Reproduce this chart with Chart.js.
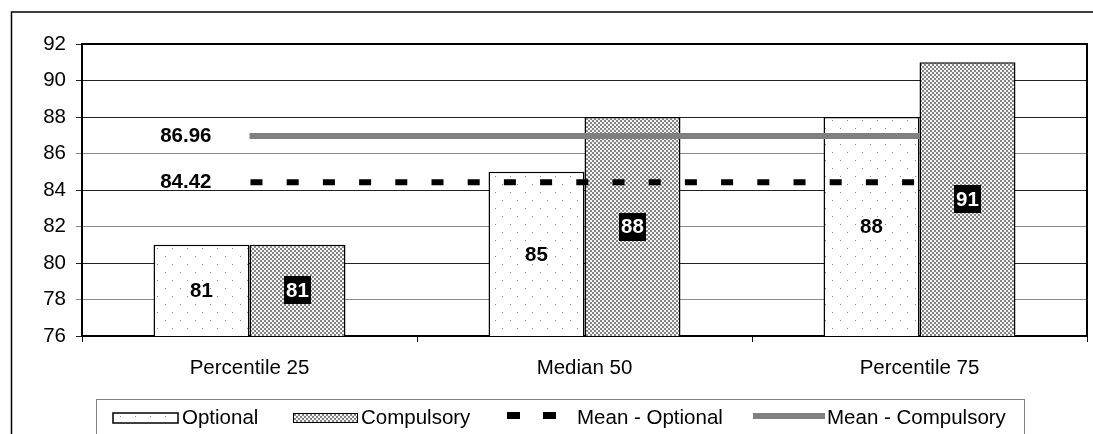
<!DOCTYPE html>
<html>
<head>
<meta charset="utf-8">
<script src="https://cdn.jsdelivr.net/npm/chart.js@4/dist/chart.umd.min.js"></script>
<style>
  html, body { margin: 0; padding: 0; background: #fff; }
  #wrap { position: relative; width: 1093px; height: 434px; }
</style>
</head>
<body>
<div id="wrap"><canvas id="chart"></canvas></div>
<script>
// data
const categories = ['Percentile 25', 'Median 50', 'Percentile 75'];
const optionalValues = [81, 85, 88];
const compulsoryValues = [81, 88, 91];
const meanOptional = [84.42, 84.42, 84.42];
const meanCompulsory = [86.96, 86.96, 86.96];
const yTicks = [76, 78, 80, 82, 84, 86, 88, 90, 92];

const FONT = '"Liberation Sans", Arial, sans-serif';

// fill patterns like the old excel ones
function dotPattern() {
    const c = document.createElement('canvas');
    c.width = 15; c.height = 16;
    const g = c.getContext('2d');
    g.fillStyle = '#fff';
    g.fillRect(0, 0, 15, 16);
    g.fillStyle = '#8a8a8a';
    g.fillRect(0, 0, 1, 1);
    g.fillRect(7, 8, 1, 1);
    return g.createPattern(c, 'repeat');
}

function checkerPattern() {
    const c = document.createElement('canvas');
    c.width = 4; c.height = 4;
    const g = c.getContext('2d');
    g.fillStyle = '#f4f4f4';
    g.fillRect(0, 0, 4, 4);
    g.fillStyle = '#858585';
    g.fillRect(0, 0, 2, 2);
    g.fillRect(2, 2, 2, 2);
    return g.createPattern(c, 'repeat');
}

const dots = dotPattern();
const checker = checkerPattern();

// outer frame, plot frame, value labels and legend
const decorations = {
    id: 'decorations',
    beforeDraw(chart) {
        const ctx = chart.ctx;
        ctx.save();
        ctx.strokeStyle = '#000';
        ctx.lineWidth = 1.5;
        ctx.beginPath();
        ctx.moveTo(11.5, 434);
        ctx.lineTo(11.5, 12);
        ctx.lineTo(1093, 12);
        ctx.stroke();
        ctx.restore();
    },
    afterDatasetsDraw(chart) {
        const ctx = chart.ctx;
        const area = chart.chartArea;
        const xs = chart.scales.x;
        const ys = chart.scales.y;
        ctx.save();

        // right + top border of the plot
        ctx.strokeStyle = '#000';
        ctx.lineWidth = 2;
        ctx.beginPath();
        ctx.moveTo(area.left, area.top);
        ctx.lineTo(area.right, area.top);
        ctx.lineTo(area.right, area.bottom);
        ctx.stroke();

        ctx.font = 'bold 20.5px ' + FONT;
        ctx.textAlign = 'center';
        ctx.textBaseline = 'middle';
        const basePx = ys.getPixelForValue(ys.min);

        // optional: plain black text
        chart.getDatasetMeta(0).data.forEach((bar, i) => {
            const cx = bar.getProps(['x'], true).x;
            const y = (ys.getPixelForValue(optionalValues[i]) + basePx) / 2;
            ctx.fillStyle = '#000';
            ctx.fillText(String(optionalValues[i]), cx, y + 1);
        });

        // compulsory: white text on a black box
        chart.getDatasetMeta(1).data.forEach((bar, i) => {
            const cx = bar.getProps(['x'], true).x;
            const y = (ys.getPixelForValue(compulsoryValues[i]) + basePx) / 2;
            const txt = String(compulsoryValues[i]);
            const w = ctx.measureText(txt).width + 4;
            ctx.fillStyle = '#000';
            ctx.fillRect(Math.round(cx - w / 2), Math.round(y - 14), Math.round(w), 28);
            ctx.fillStyle = '#fff';
            ctx.fillText(txt, cx, y + 1);
        });

        // mean values at the start of each mean line
        ctx.textAlign = 'right';
        ctx.fillStyle = '#000';
        [meanOptional, meanCompulsory].forEach(vals => {
            const px = xs.getPixelForValue(0);
            const py = ys.getPixelForValue(vals[0]);
            ctx.fillText(vals[0].toFixed(2), px - 38, py);
        });
        ctx.restore();
    },
    afterDraw(chart) {
        const ctx = chart.ctx;
        ctx.save();
        // legend box
        ctx.strokeStyle = '#808080';
        ctx.lineWidth = 1;
        ctx.strokeRect(96.5, 399.5, 928, 60);

        const ty = 418;
        ctx.font = '20.5px ' + FONT;
        ctx.textAlign = 'left';
        ctx.textBaseline = 'middle';

        // Optional
        ctx.fillStyle = dots;
        ctx.fillRect(113, 413, 65, 10);
        ctx.strokeStyle = '#000';
        ctx.lineWidth = 1.5;
        ctx.strokeRect(113, 413, 65, 10);
        ctx.fillStyle = '#000';
        ctx.fillText(chart.data.datasets[0].label, 182, ty);

        // Compulsory
        ctx.fillStyle = checker;
        ctx.fillRect(293, 413, 65, 10);
        ctx.strokeStyle = '#000';
        ctx.lineWidth = 1;
        ctx.strokeRect(293.5, 413.5, 64, 9);
        ctx.fillStyle = '#000';
        ctx.fillText(chart.data.datasets[1].label, 361, ty);

        // Mean - Optional
        ctx.fillRect(507, 412, 13, 7);
        ctx.fillRect(543, 412, 13, 7);
        ctx.fillText(chart.data.datasets[2].label, 577, ty);

        // Mean - Compulsory
        ctx.fillStyle = '#808080';
        ctx.fillRect(753, 413, 72, 6);
        ctx.fillStyle = '#000';
        ctx.fillText(chart.data.datasets[3].label, 827, ty);
        ctx.restore();
    }
};

function gridColor(ctx) {
    const v = ctx.tick ? ctx.tick.value : 0;
    return (v === 78 || v === 82 || v === 86) ? '#8a8a8a' : '#222';
}

new Chart(document.getElementById('chart').getContext('2d'), {
    type: 'bar',
    data: {
        labels: categories,
        datasets: [
            {
                label: 'Optional',
                data: optionalValues,
                backgroundColor: dots,
                borderColor: '#000',
                borderWidth: 1.5,
                order: 2
            },
            {
                label: 'Compulsory',
                data: compulsoryValues,
                backgroundColor: checker,
                borderColor: '#000',
                borderWidth: 1.5,
                order: 2
            },
            {
                type: 'line',
                label: 'Mean - Optional',
                data: meanOptional,
                borderColor: '#000',
                borderWidth: 6,
                borderDash: [12, 24.2],
                borderDashOffset: -1,
                borderCapStyle: 'butt',
                pointRadius: 0,
                fill: false,
                order: 1
            },
            {
                type: 'line',
                label: 'Mean - Compulsory',
                data: meanCompulsory,
                borderColor: '#808080',
                borderWidth: 6,
                borderCapStyle: 'butt',
                pointRadius: 0,
                fill: false,
                order: 0
            }
        ]
    },
    options: {
        responsive: true,
        maintainAspectRatio: false,
        animation: false,
        layout: { padding: { top: 44, right: 6, left: 0, bottom: 0 } },
        datasets: {
            bar: { categoryPercentage: 0.573, barPercentage: 1.0 }
        },
        plugins: {
            legend: { display: false },
            tooltip: { enabled: false }
        },
        scales: {
            x: {
                grid: {
                    drawOnChartArea: false,
                    tickLength: 6,
                    color: '#000',
                    lineWidth: 1,
                    offset: true
                },
                border: { color: '#000', width: 2 },
                ticks: {
                    color: '#000',
                    padding: 14,
                    maxRotation: 0,
                    font: { family: FONT, size: 20.5 }
                },
                afterFit: scale => { scale.height = 98; }
            },
            y: {
                min: 76,
                max: 92,
                afterBuildTicks: scale => {
                    scale.ticks = yTicks.map(v => ({ value: v }));
                },
                grid: {
                    color: gridColor,
                    lineWidth: 1,
                    tickLength: 6
                },
                border: { color: '#000', width: 2 },
                ticks: {
                    color: '#000',
                    padding: 10,
                    font: { family: FONT, size: 20.5 }
                },
                afterFit: scale => { scale.width = 82; }
            }
        }
    },
    plugins: [decorations]
});
</script>
</body>
</html>
